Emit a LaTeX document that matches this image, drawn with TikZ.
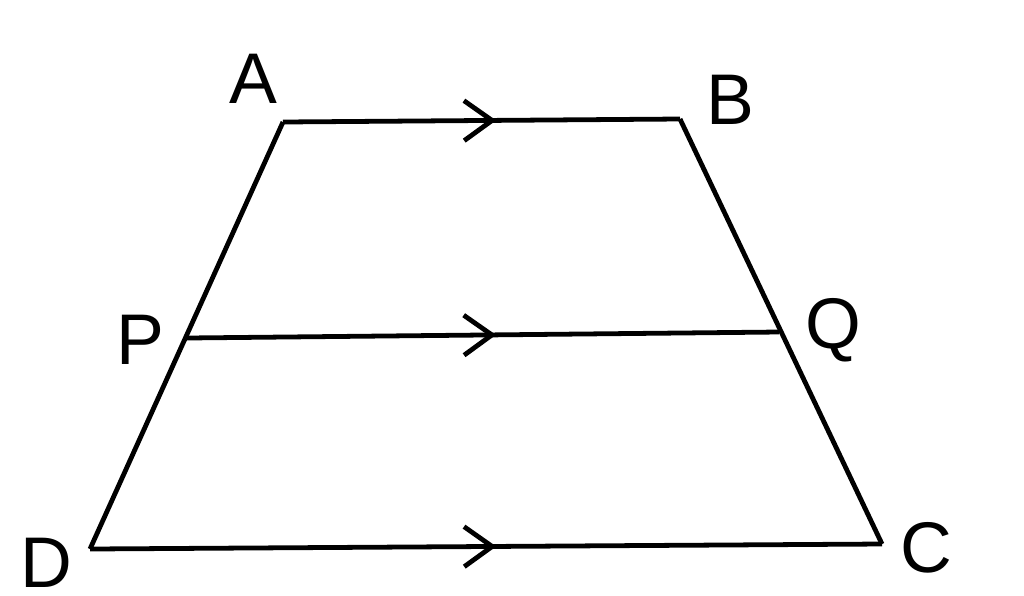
\documentclass[tikz,border=0pt]{standalone}
\usepackage{fontspec}
\setmainfont{Liberation Sans}
\usetikzlibrary{arrows.meta,decorations.markings}

\begin{document}
\begin{tikzpicture}[x=0.025cm,y=-0.025cm,line width=3.4pt,
            vertex label/.style={font=\fontsize{51}{60}\selectfont,inner sep=0pt},
            parallel mark/.style={postaction={decorate,decoration={markings,
              mark=at position #1 with {\arrow{Straight Barb[length=0.7cm,width=1cm,line width=3.4pt]}}}}}]
            \useasboundingbox (0,0) rectangle (1024,595);
            % corners of the trapezium
            \coordinate (A) at (283,122);
            \coordinate (B) at (680,119);
            \coordinate (P) at (187,338);
            \coordinate (Q) at (779,332);
            \coordinate (D) at (90,549);
            \coordinate (C) at (882,544);
            % letters
            \node[vertex label] (lA) at (253,79) {A};
            \node[vertex label] (lB) at (730,100) {B};
            \node[vertex label] (lP) at (140,340) {P};
            \node[vertex label] (lQ) at (833,330) {Q};
            \node[vertex label] (lD) at (46,563) {D};
            \node[vertex label] (lC) at (926,548) {C};
            \draw (D) -- (A) (B) -- (C);
            \path[draw]
            (A) edge[parallel mark=0.537] (B)
            (P) edge[parallel mark=0.522] (Q)
            (D) edge[parallel mark=0.513] (C)
            ;
        \end{tikzpicture}
\end{document}
